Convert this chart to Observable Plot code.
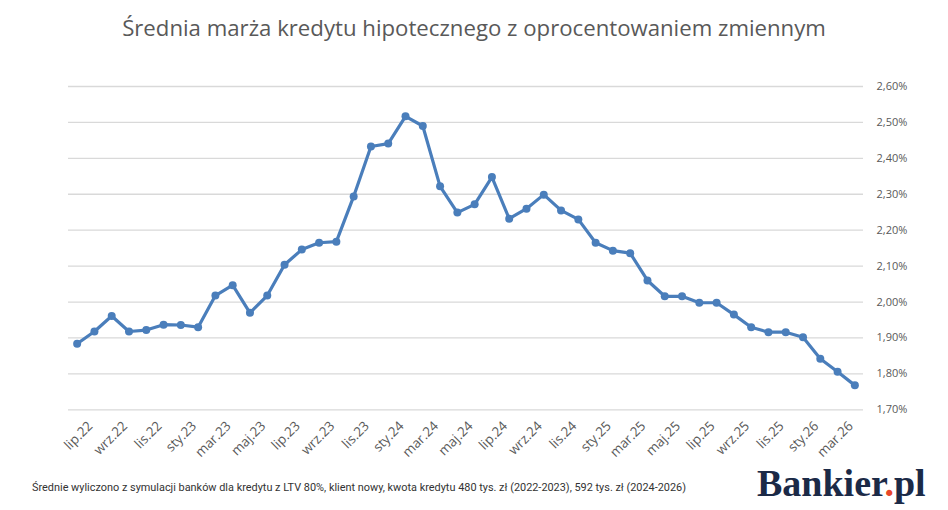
<!DOCTYPE html>
<html><head><meta charset="utf-8">
<script src="https://cdn.jsdelivr.net/npm/d3@7"></script>
<script src="https://cdn.jsdelivr.net/npm/@observablehq/plot@0.6"></script>
<style>
html,body{margin:0;padding:0;background:#fff;}
#wrap{position:relative;width:948px;height:510px;overflow:hidden;font-family:"Open Sans",sans-serif;}
#title{position:absolute;left:0;top:0;width:948px;height:56px;line-height:56px;text-align:center;font-size:22.2px;color:#595959;}
#chart{position:absolute;left:0;top:60px;}
#caption{position:absolute;left:32px;top:481px;font-family:"Liberation Sans Narrow","Roboto",sans-serif;font-size:10.9px;color:#333;white-space:nowrap;}
#logo{position:absolute;left:757px;top:461px;font-family:"Liberation Serif",serif;font-weight:bold;font-size:38px;color:#1b2a47;white-space:nowrap;}
#logo span{color:#e8462a;}
</style>
</head><body>
<div id="wrap">
  <div id="title">Średnia marża kredytu hipotecznego z oprocentowaniem zmiennym</div>
  <div id="chart"></div>
  <div id="caption">Średnie wyliczono z symulacji banków dla kredytu z LTV 80%, klient nowy, kwota kredytu 480 tys. zł (2022-2023), 592 tys. zł (2024-2026)</div>
  <div id="logo">Bankier<span>.</span>pl</div>
</div>
<script>
const categories = [
  "cze.22","lip.22","sie.22","wrz.22","paź.22","lis.22","gru.22",
  "sty.23","lut.23","mar.23","kwi.23","maj.23","cze.23","lip.23","sie.23","wrz.23","paź.23","lis.23","gru.23",
  "sty.24","lut.24","mar.24","kwi.24","maj.24","cze.24","lip.24","sie.24","wrz.24","paź.24","lis.24","gru.24",
  "sty.25","lut.25","mar.25","kwi.25","maj.25","cze.25","lip.25","sie.25","wrz.25","paź.25","lis.25","gru.25",
  "sty.26","lut.26","mar.26"
];
const marginValues = [
  1.884,1.918,1.961,1.918,1.922,1.937,1.936,
  1.930,2.018,2.047,1.970,2.018,2.104,2.146,2.165,2.168,2.294,2.433,2.441,
  2.517,2.490,2.322,2.249,2.272,2.348,2.232,2.260,2.299,2.255,2.230,2.165,
  2.143,2.136,2.060,2.016,2.016,1.998,1.998,1.965,1.930,1.916,1.916,1.902,
  1.842,1.806,1.768
];
const xTickLabels = [
  "lip.22","wrz.22","lis.22","sty.23","mar.23","maj.23","lip.23","wrz.23","lis.23",
  "sty.24","mar.24","maj.24","lip.24","wrz.24","lis.24","sty.25","mar.25","maj.25",
  "lip.25","wrz.25","lis.25","sty.26","mar.26"
];
const yTicks = [1.70,1.80,1.90,2.00,2.10,2.20,2.30,2.40,2.50,2.60];

const data = categories.map((c, i) => ({c, v: marginValues[i]}));
const fmt = d => d.toFixed(2).replace(".", ",") + "%";

const chart = Plot.plot({
  width: 948,
  height: 420,
  marginTop: 26,
  marginBottom: 70.7,
  marginLeft: 68,
  marginRight: 85,
  style: {fontFamily: "'Open Sans', sans-serif", color: "#595959", background: "transparent"},
  x: {type: "point", domain: categories, padding: 0.5, round: false},
  y: {domain: [1.70, 2.60]},
  marks: [
    Plot.ruleY(yTicks, {stroke: "#d9d9d9", strokeWidth: 1.3}),
    Plot.axisY(yTicks, {anchor: "right", tickSize: 0, tickPadding: 13, tickFormat: fmt, fontSize: 11, label: null}),
    Plot.axisX(xTickLabels, {anchor: "bottom", tickSize: 0, tickRotate: -45, tickPadding: 14, dx: -4, fontSize: 13.3, label: null}),
    Plot.line(data, {x: "c", y: "v", stroke: "#4a7ebb", strokeWidth: 3.2}),
    Plot.dot(data, {x: "c", y: "v", fill: "#4a7ebb", r: 4})
  ]
});
document.getElementById("chart").appendChild(chart);
</script>
</body></html>
